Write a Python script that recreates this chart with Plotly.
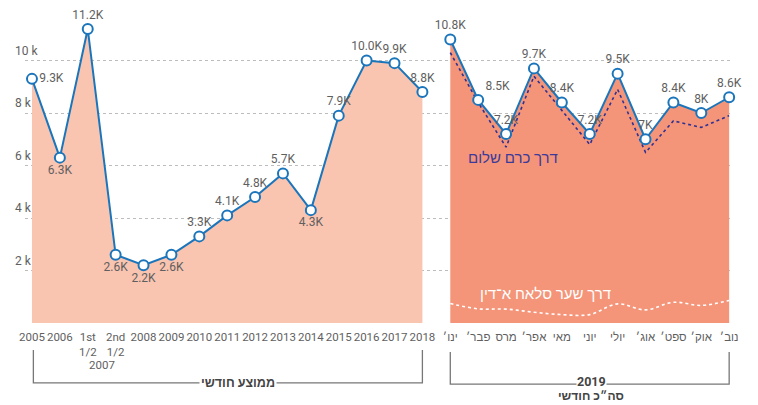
import plotly.graph_objects as go

# ---- data ----
left_labels = ["2005", "2006", "1st<br>1/2", "2nd<br>1/2", "2008", "2009", "2010", "2011",
               "2012", "2013", "2014", "2015", "2016", "2017", "2018"]
left_values = [9.3, 6.3, 11.2, 2.6, 2.2, 2.6, 3.3, 4.1, 4.8, 5.7, 4.3, 7.9, 10.0, 9.9, 8.8]

month_labels = ["ינו׳", "פבר׳", "מרס", "אפר׳", "מאי", "יוני", "יולי", "אוג׳", "ספט׳", "אוק׳", "נוב׳"]
month_total = [10.8, 8.5, 7.2, 9.7, 8.4, 7.2, 9.5, 7.0, 8.4, 8.0, 8.6]
kerem_shalom = [10.3, 8.4, 6.7, 9.4, 8.1, 6.8, 8.9, 6.5, 7.7, 7.45, 7.9]
salah_aldin = [0.74, 0.54, 0.53, 0.41, 0.32, 0.32, 0.73, 0.50, 0.79, 0.67, 0.86]

y_ticks = [2, 4, 6, 8, 10]

left_pos = ["middle right", "bottom center", "top center", "bottom center", "bottom center",
            "bottom center", "top center", "top center", "top center", "top center",
            "bottom center", "top center", "top center", "top center", "top center"]
right_pos = ["top center", "top right", "top center", "top center", "top center", "top center",
             "top center", "top center", "top center", "top center", "top center"]

FONT = "Roboto, 'Liberation Sans', 'DejaVu Sans', sans-serif"
BLUE = "#1b75bb"
GREY = "#5f5f5f"

xl = list(range(len(left_values)))
xr = list(range(len(left_values), len(left_values) + len(month_total)))

fig = go.Figure()

# fills
fig.add_trace(go.Scatter(x=xl, y=left_values, mode="none", fill="tozeroy",
                         fillcolor="#f9c4b0", hoverinfo="skip", showlegend=False))
fig.add_trace(go.Scatter(x=xr, y=month_total, mode="none", fill="tozeroy",
                         fillcolor="#f4957a", hoverinfo="skip", showlegend=False))

# sub-routes
fig.add_trace(go.Scatter(x=xr, y=kerem_shalom, mode="lines",
                         line=dict(color="#2e3192", width=1.6, dash="dot"), showlegend=False))
fig.add_trace(go.Scatter(x=xr, y=salah_aldin, mode="lines",
                         line=dict(color="white", width=1.6, dash="dot", shape="spline"),
                         showlegend=False))

marker = dict(size=10, color="white", line=dict(color=BLUE, width=2))
fig.add_trace(go.Scatter(x=xl, y=left_values, mode="lines+markers+text",
                         line=dict(color=BLUE, width=2), marker=marker,
                         text=[f"{v:.1f}K" for v in left_values], textposition=left_pos,
                         textfont=dict(size=12, color=GREY, family=FONT),
                         cliponaxis=False, showlegend=False))
fig.add_trace(go.Scatter(x=xr, y=month_total, mode="lines+markers+text",
                         line=dict(color=BLUE, width=2), marker=marker,
                         text=[f"{v:g}K" for v in month_total], textposition=right_pos,
                         textfont=dict(size=12, color=GREY, family=FONT),
                         cliponaxis=False, showlegend=False))

annotations = []
for t in y_ticks:
    annotations.append(dict(x=-0.017, xref="paper", xanchor="left", y=t, yref="y",
                            yanchor="middle", yshift=10, text=f"{t} k", showarrow=False,
                            font=dict(size=12, color=GREY, family=FONT)))
annotations += [
    dict(x=2.5, xref="x", y=-0.134, yref="paper", yanchor="middle", text="2007",
         showarrow=False, font=dict(size=11.5, color=GREY, family=FONT)),
    dict(x=17.25, xref="x", y=6.29, yref="y", text="דרך כרם שלום", showarrow=False,
         font=dict(size=15, color="#3a3a99", family=FONT)),
    dict(x=18.4, xref="x", y=1.1, yref="y", text="דרך שער סלאח א־דין", showarrow=False,
         font=dict(size=15, color="white", family=FONT)),
    dict(x=7.4, xref="x", y=-0.188, yref="paper", yanchor="middle", text="<b>ממוצע חודשי</b>",
         showarrow=False, bgcolor="white", borderpad=1,
         font=dict(size=12.5, color="#444", family=FONT)),
    dict(x=20.05, xref="x", y=-0.186, yref="paper", yanchor="middle", text="<b>2019</b>",
         showarrow=False, bgcolor="white", borderpad=0,
         font=dict(size=12.5, color="#444", family=FONT)),
    dict(x=20.05, xref="x", y=-0.232, yref="paper", yanchor="middle", text="<b>סה״כ חודשי</b>",
         showarrow=False, font=dict(size=12, color="#444", family=FONT)),
]

shapes = [
    dict(type="path", xref="x", yref="paper",
         path="M 0.05,-0.0857 L 0.05,-0.19 L 14,-0.19 L 14,-0.0857",
         line=dict(color="#777", width=1.3), layer="below"),
    dict(type="path", xref="x", yref="paper",
         path="M 15,-0.092 L 15,-0.194 L 25,-0.194 L 25,-0.092",
         line=dict(color="#777", width=1.3), layer="below"),
]

fig.update_layout(
    width=750, height=397,
    margin=dict(l=17, r=28, t=0, b=82, autoexpand=False),
    paper_bgcolor="white", plot_bgcolor="white",
    font=dict(family=FONT, color=GREY),
    showlegend=False,
    annotations=annotations,
    shapes=shapes,
    xaxis=dict(range=[-0.25, 25.03], tickmode="array",
               tickvals=xl + xr, ticktext=left_labels + month_labels,
               tickangle=0, automargin=False,
               tickfont=dict(size=11.5, color=GREY, family=FONT),
               showgrid=False, zeroline=False, showline=False,
               ticks="outside", ticklen=3, tickcolor="rgba(0,0,0,0)", fixedrange=True),
    yaxis=dict(range=[0, 12], tickmode="array", tickvals=y_ticks, showticklabels=False,
               automargin=False,
               showgrid=True, gridcolor="#bdbdbd", griddash="dot", gridwidth=1,
               zeroline=False, showline=False, fixedrange=True),
)

fig.write_html("out.html")
